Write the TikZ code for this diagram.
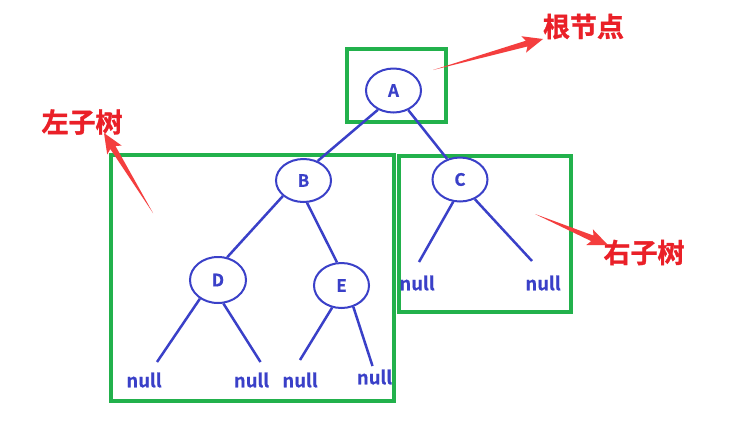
\documentclass[tikz,border=0pt]{standalone}
\usepackage{fontspec}
\setmainfont{Noto Sans CJK SC}[BoldFont={* Bold}]
\newfontfamily\heavyfont{Noto Sans CJK SC Bold}[FakeBold=1.2]
\newfontfamily\semiheavyfont{Noto Sans CJK SC Bold}[FakeBold=0.6]
\usetikzlibrary{calc,shapes.geometric}
\definecolor{treeblue}{RGB}{58,64,200}
\definecolor{boxgreen}{RGB}{34,177,76}
\definecolor{labelred}{RGB}{234,32,40}
\definecolor{arrowred}{RGB}{244,62,62}
\tikzset{
  treenode/.style={ellipse,draw=treeblue,line width=2pt,minimum width=55pt,minimum height=44pt,inner sep=0pt,text=treeblue,font=\fontsize{17}{17}\selectfont\semiheavyfont},
  nulltext/.style={inner sep=0pt,text=treeblue,font=\fontsize{18.5}{18.5}\selectfont\semiheavyfont},
  edge/.style={draw=treeblue,line width=2.5pt},
  greenbox/.style={draw=boxgreen,line width=3.2pt},
  redlabel/.style={inner sep=0pt,text=labelred,font=\fontsize{27}{27}\selectfont\heavyfont},
}
\newcommand{\taperarrow}[2]{%
  \fill[arrowred] (#1)
    -- ($($(#2)!17pt!(#1)$)!3pt!90:(#2)$)
    -- ($($(#2)!20pt!(#1)$)!8.5pt!90:(#2)$)
    -- (#2)
    -- ($($(#2)!20pt!(#1)$)!8.5pt!-90:(#2)$)
    -- ($($(#2)!17pt!(#1)$)!3pt!-90:(#2)$)
    -- cycle;}
\begin{document}
\begin{tikzpicture}[x=1pt,y=-1pt]
\useasboundingbox[fill=white] (0,0) rectangle (739,424);
% green boxes
\draw[greenbox] (347,49) rectangle (446,122);
\draw[greenbox] (111,155) rectangle (394,401);
\draw[greenbox] (399,156) rectangle (571,312);
% nodes
\node[treenode] (A) at (393.5,90.5) {A};
\node[treenode,minimum height=43pt] (B) at (303.5,180.5) {B};
\node[treenode] (C) at (460,179.5) {C};
\node[treenode,minimum width=56pt,minimum height=46pt] (D) at (218,280) {D};
\node[treenode,minimum height=45pt] (E) at (341.5,285.5) {E};
\node[nulltext] (n1) at (144,380) {null};
\node[nulltext] (n2) at (251.5,380) {null};
\node[nulltext] (n3) at (300,380) {null};
\node[nulltext] (n4) at (374.5,377) {null};
\node[nulltext] (n5) at (417,283) {null};
\node[nulltext] (n6) at (543,283) {null};
% edges
\draw[edge] (A.231) -- (B.54);
\draw[edge] (A.307) -- (C.122);
\draw[edge] (B.217) -- (D.68);
\draw[edge] (B.279) -- (E.101);
\draw[edge] (D.226) -- ([xshift=13pt,yshift=18pt]n1.center);
\draw[edge] (D.283) -- ([xshift=9pt,yshift=18pt]n2.center);
\draw[edge] (E.247) -- ([xshift=0pt,yshift=20pt]n3.center);
\draw[edge] (E.299) -- ([xshift=-2pt,yshift=11pt]n4.center);
\draw[edge] (C.253) -- ([xshift=2pt,yshift=21pt]n5.center);
\draw[edge] (C.307) -- ([xshift=-11pt,yshift=22pt]n6.center);
% labels
\node[redlabel] (root) at (583.5,26.5) {根节点};
\node[redlabel] (left) at (82,122) {左子树};
\node[redlabel] (right) at (644,252.5) {右子树};
% arrows
\coordinate (t1) at (433,70);
\coordinate (h1) at (543,39);
\coordinate (t2) at (153,213);
\coordinate (h2) at (104,133);
\coordinate (t3) at (535,214);
\coordinate (h3) at (608,245);
\taperarrow{t1}{h1}
\taperarrow{t2}{h2}
\taperarrow{t3}{h3}
\end{tikzpicture}
\end{document}
